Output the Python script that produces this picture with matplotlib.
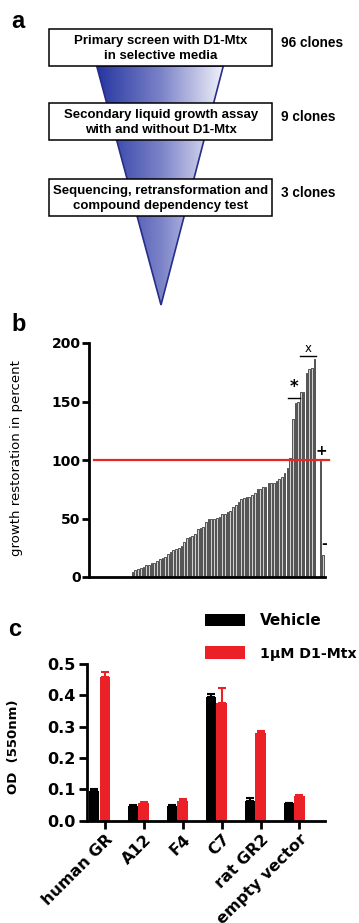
import numpy as np
import matplotlib
matplotlib.use("Agg")
import matplotlib.pyplot as plt
from matplotlib.patches import Rectangle, Polygon, Patch
from matplotlib.colors import LinearSegmentedColormap

# ---------------- data ----------------
# panel a: screening funnel
stage_texts = ["Primary screen with D1-Mtx\nin selective media",
               "Secondary liquid growth assay\nwith and without D1-Mtx",
               "Sequencing, retransformation and\ncompound dependency test"]
stage_counts = ["96 clones", "9 clones", "3 clones"]

# panel b: growth restoration (sorted clones), followed by controls
growth_values = [0, 0, 0, 0, 0, 0, 0, 0, 0, 0, 0, 0, 0, 0, 0,
                 4.3, 5.7, 7.1, 8.0, 8.8, 10.0, 10.5, 11.7, 12.2, 13.4,
                 15.1, 16.0, 16.8, 19.7, 21.4, 23.0, 23.6, 24.5, 26.5, 30.2,
                 33.0, 34.5, 35.0, 36.5, 40.7, 41.6, 43.0, 47.3, 49.3, 49.6,
                 49.9, 50.1, 51.6, 53.6, 53.8, 55.8, 56.1, 59.5, 61.5, 64.4,
                 66.4, 67.3, 68.2, 68.5, 70.5, 72.0, 74.8, 75.4, 76.8, 77.1,
                 80.0, 80.5, 80.5, 82.0, 84.0, 85.7, 89.2, 93.0, 102.0, 135.0,
                 149.0, 150.0, 158.0, 158.0, 174.0, 178.0, 179.0, 186.0]
control_labels = ["+", "-"]
control_values = [99.0, 19.0]
star_bars = [73, 76]
x_bars = [77, 82]
threshold = 100

# panel c: OD at 550 nm
clones = ["human GR", "A12", "F4", "C7", "rat GR2", "empty vector"]
vehicle = [0.096, 0.048, 0.048, 0.394, 0.064, 0.055]
vehicle_err = [0.005, 0.001, 0.001, 0.009, 0.007, 0.001]
d1mtx = [0.457, 0.058, 0.064, 0.377, 0.279, 0.080]
d1mtx_err = [0.018, 0.001, 0.004, 0.047, 0.006, 0.001]
series_names = ["Vehicle", "1\u03bcM D1-Mtx"]

RED = "#ec2027"

W, H = 359, 923
fig = plt.figure(figsize=(W / 100, H / 100), dpi=100)


def fx(px):
    return px / W


def fy(py):
    return 1 - py / H


# ---------------- panel a ----------------
ax_a = fig.add_axes([0, fy(310), 1, 310 / H])
ax_a.set_xlim(0, W)
ax_a.set_ylim(310, 0)
ax_a.axis("off")

tri_pts = [[96.7, 66], [223.3, 66], [161, 305]]
cmap = LinearSegmentedColormap.from_list("funnel", ["#2636a0", "#7a82c8", "#f2f2fa"])
grad = np.linspace(0, 1, 256).reshape(1, -1)
im = ax_a.imshow(grad, extent=[96.7, 223.3, 305, 66], cmap=cmap, aspect="auto",
                 zorder=1, interpolation="bilinear")
tri = Polygon(tri_pts, closed=True, fc="none", ec="#262e8a", lw=1.2, zorder=2)
ax_a.add_patch(tri)
im.set_clip_path(tri)

box_tops = [29.3, 103.3, 179]
box_h = 37
for top, txt, cnt in zip(box_tops, stage_texts, stage_counts):
    ax_a.add_patch(Rectangle((49.3, top), 222.4, box_h, fc="white", ec="black",
                             lw=1.1, zorder=3))
    ax_a.text(161, top + box_h / 2 + 1, txt, ha="center", va="center",
              fontsize=9.5, fontweight="bold", family="Liberation Sans",
              linespacing=1.3, zorder=4)
    ax_a.text(281, top + 14, cnt, ha="left", va="center", fontsize=9.8,
              fontweight="bold", family="Liberation Sans", zorder=4)

fig.text(fx(18), fy(22), "a", fontsize=17, fontweight="bold",
         family="Liberation Sans", ha="center", va="center")

# ---------------- panel b ----------------
ax_b = fig.add_axes([fx(89), fy(577), (325 - 89) / W, (577 - 343) / H])
xpos = np.arange(len(growth_values))
ax_b.bar(xpos, growth_values, width=0.62, color="#cfcfcf", edgecolor="black",
         linewidth=0.45, zorder=2)
n_main = len(growth_values)
ctrl_pos = [n_main + 1.2, n_main + 2.1]
ax_b.bar(ctrl_pos, control_values, width=0.62, color="#cfcfcf",
         edgecolor="black", linewidth=0.45, zorder=2)
ax_b.plot([0.8, 87.5], [threshold, threshold], color="#e8262a", lw=1.6,
          clip_on=False, zorder=4)
ax_b.set_xlim(-1.03, 85.86)
ax_b.set_ylim(0, 200)
for s in ["top", "right"]:
    ax_b.spines[s].set_visible(False)
for s in ["left", "bottom"]:
    ax_b.spines[s].set_linewidth(2.0)
ax_b.set_xticks([])
ax_b.set_yticks([0, 50, 100, 150, 200])
ax_b.tick_params(axis="y", length=5, width=2, labelsize=10, pad=1)
for lab in ax_b.get_yticklabels():
    lab.set_fontweight("bold")
ax_b.set_ylabel("growth restoration in percent", fontsize=9.5)
ax_b.yaxis.set_label_coords(-0.28, 0.51)

# group annotations
star_y = max(growth_values[star_bars[0]:star_bars[1] + 1])
x_y = max(growth_values[x_bars[0]:x_bars[1] + 1])
ax_b.plot([star_bars[0] - 0.6, star_bars[1] + 0.5], [star_y + 3, star_y + 3],
          color="black", lw=1.0, clip_on=False)
ax_b.text((star_bars[0] + star_bars[1]) / 2, star_y + 5, "*", ha="center",
          va="bottom", fontsize=12, fontweight="bold")
ax_b.plot([x_bars[0] - 0.5, x_bars[1] + 0.6], [x_y + 3, x_y + 3],
          color="black", lw=1.0, clip_on=False)
ax_b.text((x_bars[0] + x_bars[1]) / 2 + 0.2, x_y + 4, "x", ha="center",
          va="bottom", fontsize=8.5)
for p, v, lab in zip(ctrl_pos, control_values, control_labels):
    ax_b.text(p + 0.3, v + 3, lab, ha="center", va="bottom", fontsize=10,
              fontweight="bold", clip_on=False)

fig.text(fx(19), fy(324), "b", fontsize=17, fontweight="bold",
         family="Liberation Sans", ha="center", va="center")

# ---------------- panel c ----------------
ax_c = fig.add_axes([fx(87), fy(820.7), (325 - 87) / W, (820.7 - 664) / H])
pos = np.arange(len(clones))
ax_c.bar(pos - 0.28, vehicle, width=0.26, color="black",
         yerr=[[0] * len(vehicle), vehicle_err],
         error_kw=dict(ecolor="black", elinewidth=1.5, capsize=3, capthick=1.5))
ax_c.bar(pos, d1mtx, width=0.28, color=RED,
         yerr=[[0] * len(d1mtx), d1mtx_err],
         error_kw=dict(ecolor=RED, elinewidth=1.5, capsize=3, capthick=1.5))
ax_c.set_xlim(-0.463, 5.656)
ax_c.set_ylim(0, 0.5)
for s in ["top", "right"]:
    ax_c.spines[s].set_visible(False)
for s in ["left", "bottom"]:
    ax_c.spines[s].set_linewidth(2.0)
ax_c.set_yticks([0.0, 0.1, 0.2, 0.3, 0.4, 0.5])
ax_c.set_yticklabels([f"{v:.1f}" for v in [0.0, 0.1, 0.2, 0.3, 0.4, 0.5]],
                     fontweight="bold", fontsize=11.5)
ax_c.set_xticks(pos)
ax_c.set_xticklabels(clones, rotation=45, ha="right", rotation_mode="anchor",
                     fontweight="bold", fontsize=11.5)
ax_c.tick_params(axis="both", length=6, width=2, pad=2)
ax_c.set_ylabel("OD  (550nm)", fontsize=9.5, fontweight="bold")
ax_c.yaxis.set_label_coords(-0.282, 0.47)

handles = [Patch(facecolor="black"), Patch(facecolor=RED)]
leg = ax_c.legend(handles, series_names, loc="upper left",
                  bbox_to_anchor=(fx(205), fy(613)), bbox_transform=fig.transFigure,
                  frameon=False, handlelength=2.6, handleheight=0.85,
                  handletextpad=1.0, labelspacing=1.2, borderpad=0, borderaxespad=0,
                  prop=dict(weight="bold", size=11))
leg.get_texts()[1].set_fontsize(10.2)

fig.text(fx(15), fy(629), "c", fontsize=17, fontweight="bold",
         family="Liberation Sans", ha="center", va="center")

fig.savefig("out.png", dpi=100)
